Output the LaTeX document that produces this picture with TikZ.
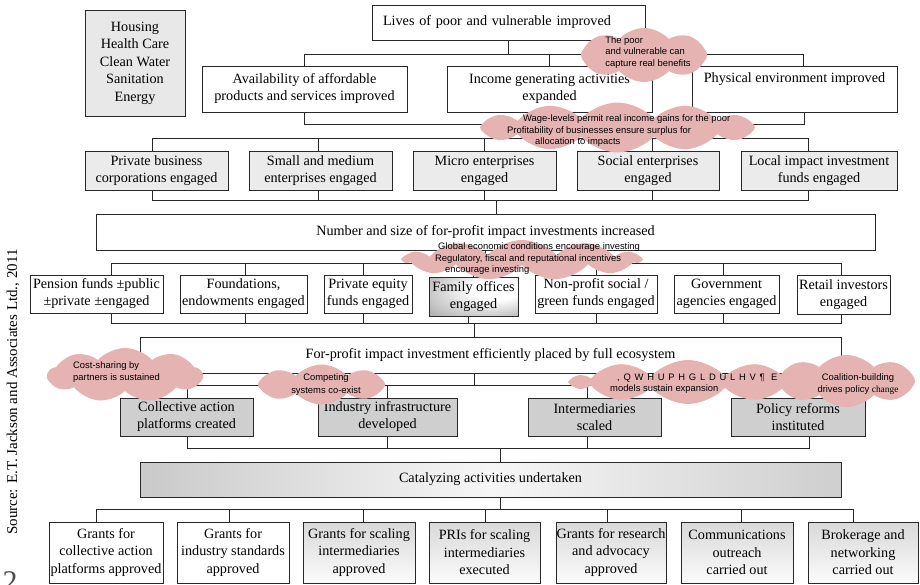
\documentclass[tikz,border=0pt]{standalone}
\usepackage{fontspec}
\setmainfont{Liberation Serif}
\newfontfamily\cloudfont{Liberation Sans}
\newfontfamily\cloudspaced[LetterSpace=40]{Liberation Sans}
\usetikzlibrary{shapes.symbols}
\definecolor{cloudpink}{RGB}{230,179,179}
\definecolor{linec}{RGB}{40,40,40}
\pgfdeclareradialshading{famshade}{\pgfpoint{18bp}{14bp}}{color(0bp)=(white); color(14bp)=(white); color(36bp)=(gray!55); color(50bp)=(gray!95)}
\newcommand\mkanc[3]{\coordinate (#1) at ([xshift=#3]#2);}
\begin{document}
\begin{tikzpicture}[x=1pt,y=-1pt,
  conn/.style={draw=linec,line width=0.8pt},
  bx/.style={draw=linec,line width=0.8pt,align=center,inner sep=0pt,font=\fontsize{14.2}{17}\selectfont},
  bx3/.style={bx,font=\fontsize{14.2}{17.5}\selectfont,minimum height=61pt},
  lg/.style={fill=gray!16},
  dg/.style={fill=gray!38},
  gr/.style={top color=gray!30,bottom color=gray!3},
  cl/.style={cloud,cloud puffs=10,cloud puff arc=95,cloud ignores aspect,fill=cloudpink,draw=none,inner sep=0pt},
  ct/.style={font=\cloudfont\fontsize{9.4}{11.5}\selectfont,align=left,inner sep=0pt}]
\useasboundingbox (0,0) rectangle (920,584);
\fill[white] (0,0) rectangle (920,584);

% ---------- boxes ----------
\node[bx,fill=gray!18,minimum width=100pt,minimum height=106pt,font=\fontsize{14.2}{17.5}\selectfont] (housing) at (135,63) {Housing\\Health Care\\Clean Water\\Sanitation\\Energy};
\node[bx,minimum width=273pt,minimum height=35pt,text width=251pt,align=left,inner xsep=11pt] (top) at (508.5,22.5) {Lives of poor and vulnerable improved};

\node[bx,minimum width=205pt,minimum height=46pt] (avail) at (304.5,89) {Availability of affordable\\products and services improved};
\node[bx,minimum width=205pt,minimum height=46pt] (income) at (549.5,89) {Income generating activities\\expanded};
\node[bx,minimum width=205pt,minimum height=46pt] (phys) at (794.5,89) {Physical environment improved\\\strut};

\node[bx,lg,minimum width=143pt,minimum height=39pt] (pbc) at (156.5,170.5) {Private business\\corporations engaged};
\node[bx,lg,minimum width=143pt,minimum height=39pt] (sme) at (320.5,170.5) {Small and medium\\enterprises engaged};
\node[bx,lg,minimum width=143pt,minimum height=39pt] (micro) at (484.5,170.5) {Micro enterprises\\engaged};
\node[bx,lg,minimum width=142pt,minimum height=39pt] (social) at (648,170.5) {Social enterprises\\engaged};
\node[bx,lg,minimum width=156pt,minimum height=39pt] (local) at (819,170.5) {Local impact investment\\funds engaged};

\node[bx,minimum width=779pt,minimum height=36pt] (number) at (485.5,232) {Number and size of for-profit impact investments increased};

\node[bx,minimum width=133pt,minimum height=38pt] (pension) at (96.5,294) {Pension funds ±public\\±private ±engaged};
\node[bx,minimum width=127pt,minimum height=38pt] (found) at (243.5,294) {Foundations,\\endowments engaged};
\node[bx,minimum width=88pt,minimum height=38pt] (pe) at (368,294) {Private equity\\funds engaged};
\node[bx,minimum width=89pt,minimum height=39pt,shading=famshade] (family) at (473.5,296.5) {Family offices\\engaged};
\node[bx,minimum width=122pt,minimum height=38pt] (nonprofit) at (596,294) {Non-profit social /\\green funds engaged};
\node[bx,minimum width=105pt,minimum height=38pt] (gov) at (726.5,294) {Government\\agencies engaged};
\node[bx,minimum width=93pt,minimum height=39pt] (retail) at (843.5,294.5) {Retail investors\\engaged};

\node[bx,minimum width=701pt,minimum height=36pt] (forprofit) at (490.5,355) {For-profit impact investment efficiently placed by full ecosystem};

\node[bx,dg,minimum width=133pt,minimum height=38pt] (collective) at (186.5,417) {Collective action\\platforms created};
\node[bx,dg,minimum width=139pt,minimum height=38pt] (industry) at (387.5,417) {Industry infrastructure\\developed};
\node[bx,dg,minimum width=133pt,minimum height=38pt] (inter) at (594.5,417) {Intermediaries\\scaled};
\node[bx,dg,minimum width=134pt,minimum height=38pt] (policy) at (798,417) {Policy reforms\\instituted};

\node[bx,minimum width=701pt,minimum height=35pt,left color=gray!42,right color=gray!38,middle color=gray!7] (catalyze) at (490.5,479.5) {Catalyzing activities undertaken};

\node[bx3,minimum width=114pt] (g1) at (106,552.5) {Grants for\\collective action\\platforms approved};
\node[bx3,minimum width=112pt] (g2) at (233,552.5) {Grants for\\industry standards\\approved};
\node[bx3,gr,minimum width=112pt] (g3) at (359,552.5) {Grants for scaling\\intermediaries\\approved};
\node[bx3,gr,minimum width=111pt] (g4) at (484.5,552.5) {PRIs for scaling\\intermediaries\\executed};
\node[bx3,gr,minimum width=110pt] (g5) at (611,552.5) {Grants for research\\and advocacy\\approved};
\node[bx3,gr,minimum width=112pt] (g6) at (737,552.5) {Communications\\outreach\\carried out};
\node[bx3,gr,minimum width=110pt] (g7) at (863,552.5) {Brokerage and\\networking\\carried out};

% ---------- bus levels and anchor points ----------
\coordinate (b1) at (0,54);
\coordinate (b2) at (0,124);
\coordinate (b3) at (0,138);
\coordinate (b4) at (0,200);
\coordinate (b5) at (0,263);
\coordinate (b6) at (0,323);
\coordinate (b7) at (0,385);
\coordinate (b8) at (0,448);
\coordinate (b9) at (0,509);

\mkanc{physN}{phys.north}{8.5pt}
\mkanc{physS}{phys.south}{9.5pt}
\mkanc{pbcN}{pbc.north}{-4.5pt}\mkanc{pbcS}{pbc.south}{-4.5pt}
\mkanc{smeN}{sme.north}{-2.5pt}\mkanc{smeS}{sme.south}{-2.5pt}
\mkanc{socialN}{social.north}{4pt}\mkanc{socialS}{social.south}{4pt}
\mkanc{localN}{local.north}{-11pt}\mkanc{localS}{local.south}{-11pt}
\mkanc{numberN}{number.north}{10.5pt}
\mkanc{pensionN}{pension.north}{14.5pt}\mkanc{pensionS}{pension.south}{14.5pt}
\mkanc{foundN}{found.north}{1.5pt}\mkanc{foundS}{found.south}{1.5pt}
\mkanc{peN}{pe.north}{-5pt}\mkanc{peS}{pe.south}{-5pt}
\mkanc{familyS}{family.south}{-5.5pt}
\mkanc{govN}{gov.north}{-3.5pt}\mkanc{govS}{gov.south}{-3.5pt}
\mkanc{retailN}{retail.north}{-2.5pt}\mkanc{retailS}{retail.south}{-2pt}
\mkanc{forprofitN}{forprofit.north}{-16.5pt}\mkanc{forprofitS}{forprofit.south}{-16.5pt}
\mkanc{collectiveN}{collective.north}{0.5pt}\mkanc{collectiveS}{collective.south}{0.5pt}
\mkanc{industryN}{industry.north}{-0.5pt}\mkanc{industryS}{industry.south}{-0.5pt}
\mkanc{interN}{inter.north}{-7.5pt}\mkanc{interS}{inter.south}{-7.5pt}
\mkanc{policyN}{policy.north}{11pt}\mkanc{policyS}{policy.south}{11pt}
\mkanc{catalyzeN}{catalyze.north}{9.5pt}\mkanc{catalyzeS}{catalyze.south}{9.5pt}
\mkanc{g1N}{g1.north}{-10pt}
\mkanc{g2N}{g2.north}{-4pt}
\mkanc{g3N}{g3.north}{4pt}
\mkanc{g4N}{g4.north}{0.5pt}
\mkanc{g5N}{g5.north}{-4pt}
\mkanc{g6N}{g6.north}{4pt}
\mkanc{g7N}{g7.north}{-10pt}

% ---------- connectors ----------
\draw[conn] (top.south) -- (top.south |- b1);
\draw[conn] (avail.north) |- (physN |- b1) -- (physN);
\draw[conn] (income.north) -- (income.north |- b1);

\draw[conn] (avail.south) |- (physS |- b2) -- (physS);
\draw[conn] (income.south) -- (income.south |- b3);

\draw[conn] (pbcN) |- (localN |- b3) -- (localN);
\draw[conn] (smeN) -- (smeN |- b3);
\draw[conn] (micro.north) -- (micro.north |- b3);
\draw[conn] (socialN) -- (socialN |- b3);

\draw[conn] (pbcS) |- (localS |- b4) -- (localS);
\draw[conn] (smeS) -- (smeS |- b4);
\draw[conn] (micro.south) -- (micro.south |- b4);
\draw[conn] (socialS) -- (socialS |- b4);
\draw[conn] (numberN) -- (numberN |- b4);

\draw[conn] (number.south) -- (number.south |- b5);
\draw[conn] (pensionN) |- (retailN |- b5) -- (retailN);
\draw[conn] (foundN) -- (foundN |- b5);
\draw[conn] (peN) -- (peN |- b5);
\draw[conn] (family.north) -- (family.north |- b5);
\draw[conn] (nonprofit.north) -- (nonprofit.north |- b5);
\draw[conn] (govN) -- (govN |- b5);

\draw[conn] (pensionS) |- (retailS |- b6) -- (retailS);
\draw[conn] (foundS) -- (foundS |- b6);
\draw[conn] (peS) -- (peS |- b6);
\draw[conn] (familyS) -- (familyS |- b6);
\draw[conn] (nonprofit.south) -- (nonprofit.south |- b6);
\draw[conn] (govS) -- (govS |- b6);
\draw[conn] (forprofitN) -- (forprofitN |- b6);

\draw[conn] (forprofitS) -- (forprofitS |- b7);
\draw[conn] (collectiveN) |- (policyN |- b7) -- (policyN);
\draw[conn] (industryN) -- (industryN |- b7);
\draw[conn] (interN) -- (interN |- b7);

\draw[conn] (collectiveS) |- (policyS |- b8) -- (policyS);
\draw[conn] (industryS) -- (industryS |- b8);
\draw[conn] (interS) -- (interS |- b8);
\draw[conn] (catalyzeN) -- (catalyzeN |- b8);

\draw[conn] (catalyzeS) -- (catalyzeS |- b9);
\draw[conn] (g1N) |- (g7N |- b9) -- (g7N);
\draw[conn] (g2N) -- (g2N |- b9);
\draw[conn] (g3N) -- (g3N |- b9);
\draw[conn] (g4N) -- (g4N |- b9);
\draw[conn] (g5N) -- (g5N |- b9);
\draw[conn] (g6N) -- (g6N |- b9);

% ---------- clouds ----------
\node[cl,cloud puffs=8,minimum width=126pt,minimum height=54pt] (c1) at (644,55) {};
\node[cl,cloud puffs=12,minimum width=275pt,minimum height=50pt] (c2) at (617.5,127.5) {};
\node[cl,cloud puffs=11,minimum width=236pt,minimum height=40pt] (c3) at (522,260) {};
\node[cl,cloud puffs=9,minimum width=154pt,minimum height=54pt] (c4) at (125,375) {};
\node[cl,cloud puffs=8,minimum width=127pt,minimum height=40pt] (c5) at (321.5,384.5) {};
\node[cl,cloud puffs=10,minimum width=230pt,minimum height=44pt] (c6) at (688,382) {};
\node[cl,cloud puffs=8,minimum width=137pt,minimum height=52pt] (c7) at (846.5,381) {};

\node[ct] (c1t) at (648,52.5) {The poor\\and vulnerable can\\capture real benefits};
\node[ct,anchor=west] (c2t) at (507,131) {\hspace*{16pt}Wage-levels permit real income gains for the poor\\Profitability of businesses ensure surplus for\\\hspace*{28pt}allocation to impacts};
\node[ct,anchor=west] (c3t) at (435,259) {\hspace*{3pt}Global economic conditions encourage investing\\Regulatory, fiscal and reputational incentives\\\hspace*{10pt}encourage investing};
\node[ct,anchor=west] (c4t) at (73,372) {Cost-sharing by\\partners is sustained};
\node[ct,align=center,font=\cloudfont\fontsize{9.4}{13}\selectfont] (c5t) at (326,384.5) {Competing\\systems co-exist};
\node[ct,anchor=west] (c6t) at (610,383.5) {\hspace*{7pt}{\cloudspaced ,QWHUPHGLDULHV¶ E}\\models sustain expansion};
\node[ct,align=center,font=\cloudfont\fontsize{9.4}{12}\selectfont] (c7t) at (858,384) {Coalition-building\\drives policy {\rmfamily change}};

% ---------- side texts ----------
\node[rotate=90,font=\fontsize{15}{17}\selectfont,inner sep=0pt] (src) at (13,392) {Source: E.T. Jackson and Associates Ltd., 2011};
\node[font=\fontsize{30}{30}\selectfont,anchor=north,inner sep=0pt,text=black!70] (pnum) at (10,571) {2};
\end{tikzpicture}
\end{document}
